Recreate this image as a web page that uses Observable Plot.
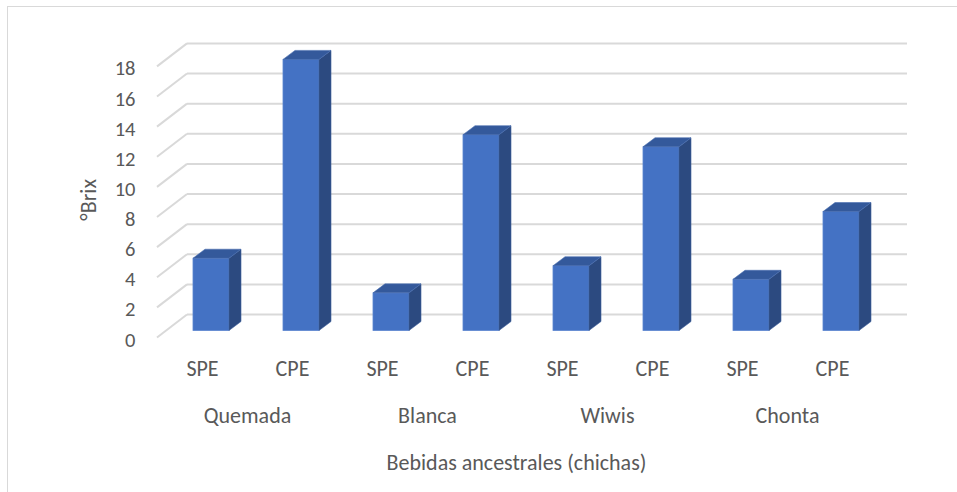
<!DOCTYPE html>
<html>
<head>
<meta charset="utf-8">
<script src="https://cdn.jsdelivr.net/npm/d3@7"></script>
<script src="https://cdn.jsdelivr.net/npm/@observablehq/plot@0.6"></script>
<style>
  html, body { margin: 0; padding: 0; background: #fff; overflow: hidden; }
  #wrap { position: relative; width: 957px; height: 492px; }
  #border { position: absolute; left: 7px; top: 6px; width: 980px; height: 520px; border: 1.5px solid #d9d9d9; box-sizing: border-box; }
  #chart { position: absolute; left: 0; top: 0; }
</style>
</head>
<body>
<div id="wrap"><div id="border"></div><div id="chart"></div></div>
<script>
const groups = ["Quemada", "Blanca", "Wiwis", "Chonta"];
const subs = ["SPE", "CPE"];
const speValues = [4.8, 2.5, 4.3, 3.4];
const cpeValues = [18.0, 13.0, 12.2, 7.9];
const yTicks = [0, 2, 4, 6, 8, 10, 12, 14, 16, 18];
const yTitle = "°Brix";
const xTitle = "Bebidas ancestrales (chichas)";

const rows = [];
groups.forEach((g, i) => {
  rows.push({group: g, sub: subs[0], key: g + "|" + subs[0], value: speValues[i]});
  rows.push({group: g, sub: subs[1], key: g + "|" + subs[1], value: cpeValues[i]});
});
const speRows = rows.filter(d => d.sub === subs[0]);

const FONT = "Carlito, Calibri, Lato, sans-serif";
const TXT = "#595959";
const GRID = "#d9d9d9";
const DX = 12, DY = 9;           // bar depth
const WALL_DX = 21, WALL_DY = 16; // back wall offset from bar plane
const FRONT_DX = 9, FRONT_DY = 7; // front edge offset from bar plane

function gridRender(index, scales, values, dimensions, context) {
  const g = d3.select(context.document.createElementNS("http://www.w3.org/2000/svg", "g"));
  const xl = dimensions.marginLeft, xr = dimensions.width - dimensions.marginRight;
  for (const i of index) {
    const y = values.y[i];
    g.append("line")
      .attr("x1", xl).attr("x2", xr)
      .attr("y1", y - WALL_DY).attr("y2", y - WALL_DY)
      .attr("stroke", GRID).attr("stroke-width", 2);
    g.append("line")
      .attr("x1", xl - WALL_DX - FRONT_DX).attr("y1", y + FRONT_DY)
      .attr("x2", xl).attr("y2", y - WALL_DY)
      .attr("stroke", GRID).attr("stroke-width", 2);
  }
  return g.node();
}

function barRender(index, scales, values, dimensions, context, next) {
  const node = next(index, scales, values, dimensions, context);
  const g = d3.select(node);
  const bw = typeof scales.x.bandwidth === "function" ? scales.x.bandwidth() : scales.x.bandwidth;
  for (const i of index) {
    const x0 = values.x[i], x1 = x0 + bw;
    const yt = Math.min(values.y1[i], values.y2[i]);
    const yb = Math.max(values.y1[i], values.y2[i]);
    g.append("polygon")
      .attr("points", [[x1, yt], [x1 + DX, yt - DY], [x1 + DX, yb - DY], [x1, yb]].join(" "))
      .attr("fill", "#2c4a80").attr("stroke", "#3c5e9c").attr("stroke-width", 0.6);
    g.append("polygon")
      .attr("points", [[x0, yt], [x0 + DX, yt - DY], [x1 + DX, yt - DY], [x1, yt]].join(" "))
      .attr("fill", "#34599b").attr("stroke", "#4a6fb0").attr("stroke-width", 0.6);
  }
  return node;
}

const chart = Plot.plot({
  width: 957,
  height: 492,
  marginLeft: 187,
  marginRight: 50,
  marginTop: 0,
  marginBottom: 161.5,
  style: {fontFamily: FONT, color: TXT, background: "transparent", overflow: "visible"},
  x: {type: "band", domain: rows.map(d => d.key), range: [193, 859], paddingInner: 0.6, paddingOuter: 0, axis: null},
  y: {domain: [0, 18], range: [330.5, 59.4], axis: null},
  marks: [
    Plot.ruleY(yTicks, {y: d => d, render: gridRender}),
    Plot.axisY(yTicks, {label: null, tickSize: 0, tickPadding: 52, dy: 9, fontSize: 20.5, fill: TXT, tickFormat: d => String(d)}),
    Plot.barY(rows, {x: "key", y: "value", fill: "#4472c4", stroke: "#5b85d0", strokeWidth: 0.8, render: barRender}),
    Plot.text(rows, {x: "key", text: "sub", frameAnchor: "bottom", dx: -FRONT_DX, dy: 44.5, fontSize: 22, fill: TXT}),
    Plot.text(speRows, {x: "key", text: "group", frameAnchor: "bottom", dx: 45 - FRONT_DX, dy: 91.5, fontSize: 22, fill: TXT}),
    Plot.text([xTitle], {text: d => d, frameAnchor: "bottom", dx: -31, dy: 138.5, fontSize: 22, fill: TXT}),
    Plot.text([yTitle], {text: d => d, frameAnchor: "left", rotate: -90, dx: -99, dy: 55, fontSize: 22, fill: TXT})
  ]
});
document.getElementById("chart").appendChild(chart);
</script>
</body>
</html>
